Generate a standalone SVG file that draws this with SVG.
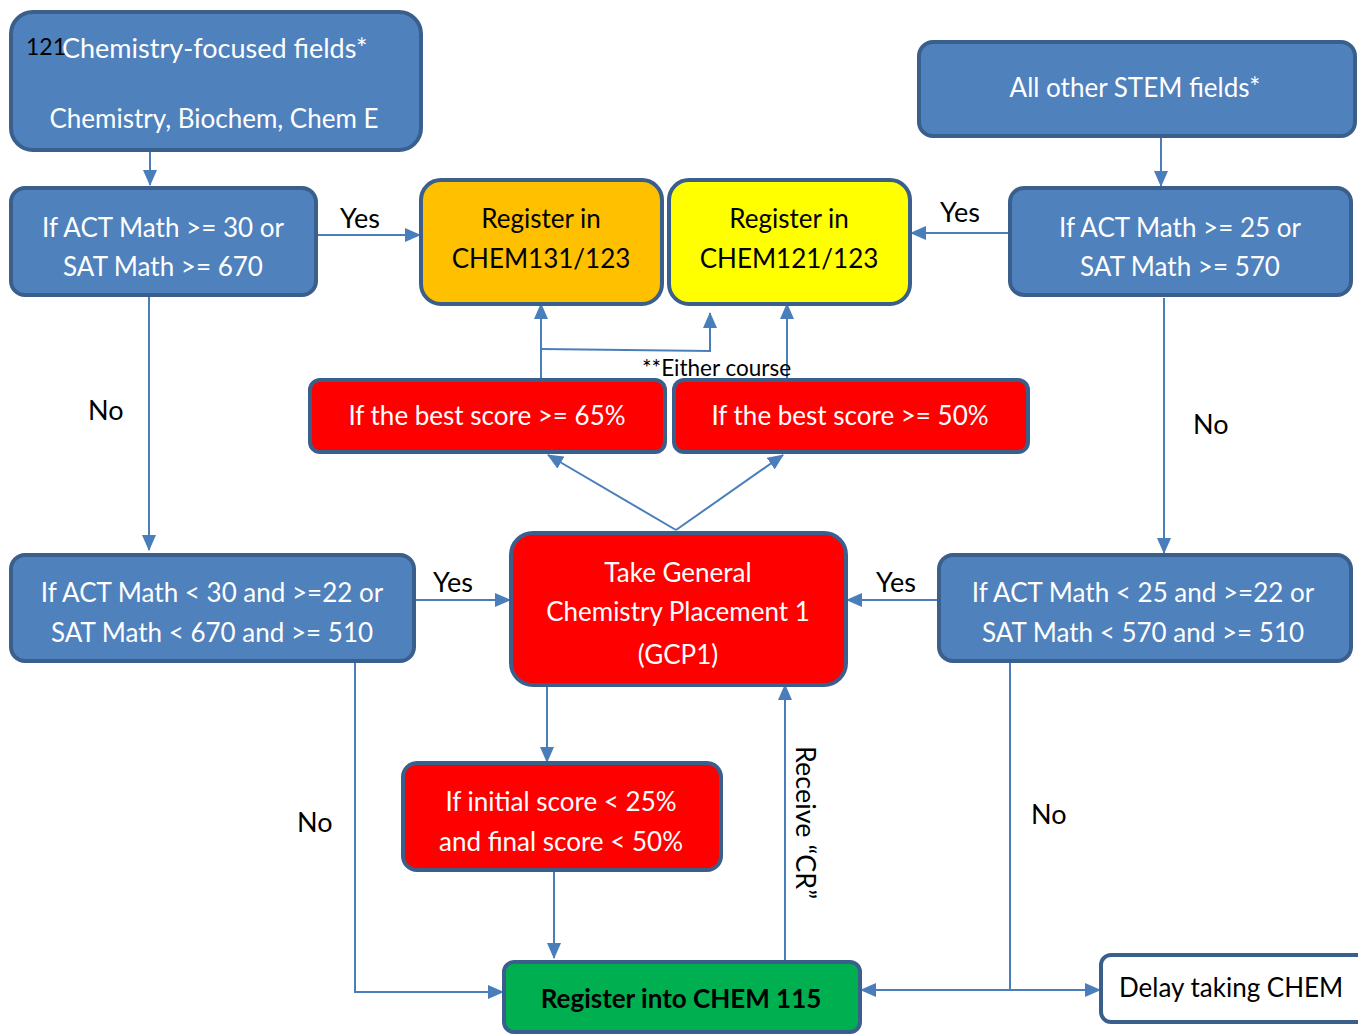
<svg xmlns="http://www.w3.org/2000/svg" width="1358" height="1034" viewBox="0 0 1358 1034">
<style>
.box{stroke:#3B5F8C;stroke-width:4}
.blue{fill:#4F81BD}
.red{fill:#FF0000}
.t{font-family:Lato,"Liberation Sans",sans-serif;font-size:26px;text-anchor:middle}
.w{fill:#FFFFFF}
.k{fill:#000000}
.lbl{font-family:Lato,"Liberation Sans",sans-serif;font-size:27px;fill:#000}
.c{fill:none;stroke:#4A7EBB;stroke-width:2}
</style>
<defs>
<marker id="ah" markerUnits="userSpaceOnUse" markerWidth="16" markerHeight="14" refX="15" refY="7" orient="auto">
<path d="M0,0 L16,7 L0,14 Z" fill="#4A7EBB"/>
</marker>
</defs>
<rect width="1358" height="1034" fill="#FFFFFF"/>

<g id="connectors">
<path class="c" d="M150,98 V185" marker-end="url(#ah)"/>
<path class="c" d="M316,235 H420" marker-end="url(#ah)"/>
<path class="c" d="M149,296 V550" marker-end="url(#ah)"/>
<path class="c" d="M1161,105 V186" marker-end="url(#ah)"/>
<path class="c" d="M1010,233 H911" marker-end="url(#ah)"/>
<path class="c" d="M1164,298 V553" marker-end="url(#ah)"/>
<path class="c" d="M541,379 V304" marker-end="url(#ah)"/>
<path class="c" d="M541,349 L710,351 V313" marker-end="url(#ah)"/>
<path class="c" d="M787,380 V304" marker-end="url(#ah)"/>
<path class="c" d="M676,530 L548,455" marker-end="url(#ah)"/>
<path class="c" d="M676,530 L783,455" marker-end="url(#ah)"/>
<path class="c" d="M414,600 H510" marker-end="url(#ah)"/>
<path class="c" d="M939,600 H847" marker-end="url(#ah)"/>
<path class="c" d="M547,686 V762" marker-end="url(#ah)"/>
<path class="c" d="M554,870 V958" marker-end="url(#ah)"/>
<path class="c" d="M785,961 V685" marker-end="url(#ah)"/>
<path class="c" d="M355,661 V992 H503" marker-end="url(#ah)"/>
<path class="c" d="M1010,661 V990 H861" marker-end="url(#ah)"/>
<path class="c" d="M985,990 H1100" marker-end="url(#ah)"/>
<text class="lbl" x="340" y="228">Yes</text>
<text class="lbl" x="940" y="222">Yes</text>
<text class="lbl" x="88" y="420">No</text>
<text class="lbl" x="1193" y="434">No</text>
<text class="lbl" x="433" y="592">Yes</text>
<text class="lbl" x="876" y="592">Yes</text>
<text class="lbl" x="297" y="832">No</text>
<text class="lbl" x="1031" y="824">No</text>
<text class="lbl" x="642" y="376" style="font-size:22.5px">**Either course</text>
<text class="lbl" transform="translate(796,746) rotate(90)">Receive “CR”</text>
</g>

<g id="n_chemfocused">
<rect class="box blue" x="11" y="12" width="410" height="138" rx="22"/>
<text class="t w" x="214" y="128">Chemistry, Biochem, Chem E</text>
<text class="t w" x="62" y="58" style="text-anchor:start;font-size:27px">Chemistry-focused fields*</text>
<text class="t k" x="26" y="55" style="text-anchor:start;font-size:23px">121</text>
</g>

<g id="n_act30">
<rect class="box blue" x="11" y="188" width="305" height="107" rx="14"/>
<text class="t w" x="163" y="237">If ACT Math &gt;= 30 or</text>
<text class="t w" x="163" y="276">SAT Math &gt;= 670</text>
</g>

<g id="n_chem131">
<rect class="box" fill="#FFC000" x="421" y="180" width="241" height="124" rx="20"/>
<text class="t k" x="541" y="228">Register in</text>
<text class="t k" x="541" y="268">CHEM131/123</text>
</g>

<g id="n_chem121">
<rect class="box" fill="#FFFF00" x="669" y="180" width="241" height="124" rx="20"/>
<text class="t k" x="789" y="228">Register in</text>
<text class="t k" x="789" y="268">CHEM121/123</text>
</g>

<g id="n_otherstem">
<rect class="box blue" x="919" y="42" width="436" height="94" rx="14"/>
<text class="t w" x="1135" y="97">All other STEM fields*</text>
</g>

<g id="n_act25">
<rect class="box blue" x="1010" y="188" width="341" height="107" rx="14"/>
<text class="t w" x="1180" y="237">If ACT Math &gt;= 25 or</text>
<text class="t w" x="1180" y="276">SAT Math &gt;= 570</text>
</g>

<g id="n_best65">
<rect class="box red" x="310" y="380" width="355" height="72" rx="10"/>
<text class="t w" x="487" y="425">If the best score &gt;= 65%</text>
</g>

<g id="n_best50">
<rect class="box red" x="674" y="380" width="354" height="72" rx="10"/>
<text class="t w" x="850" y="425">If the best score &gt;= 50%</text>
</g>

<g id="n_act30_22">
<rect class="box blue" x="11" y="555" width="403" height="106" rx="14"/>
<text class="t w" x="212" y="602">If ACT Math &lt; 30 and &gt;=22 or</text>
<text class="t w" x="212" y="642">SAT Math &lt; 670 and &gt;= 510</text>
</g>

<g id="n_gcp1">
<rect class="box red" x="511" y="533" width="335" height="152" rx="22"/>
<text class="t w" x="678" y="582">Take General</text>
<text class="t w" x="678" y="621">Chemistry Placement 1</text>
<text class="t w" x="678" y="664">(GCP1)</text>
</g>

<g id="n_act25_22">
<rect class="box blue" x="939" y="555" width="412" height="106" rx="14"/>
<text class="t w" x="1143" y="602">If ACT Math &lt; 25 and &gt;=22 or</text>
<text class="t w" x="1143" y="642">SAT Math &lt; 570 and &gt;= 510</text>
</g>

<g id="n_initial">
<rect class="box red" x="403" y="763" width="318" height="107" rx="14"/>
<text class="t w" x="561" y="811">If initial score &lt; 25%</text>
<text class="t w" x="561" y="851">and final score &lt; 50%</text>
</g>

<g id="n_chem115">
<rect class="box" fill="#00B050" x="504" y="962" width="356" height="70" rx="10"/>
<text class="t k" x="681" y="1008" style="font-weight:bold">Register into CHEM 115</text>
</g>

<g id="n_delay">
<rect class="box" fill="#FFFFFF" x="1101" y="955" width="270" height="67" rx="10"/>
<text class="t k" x="1119" y="997" style="text-anchor:start">Delay taking CHEM</text>
</g>
</svg>
